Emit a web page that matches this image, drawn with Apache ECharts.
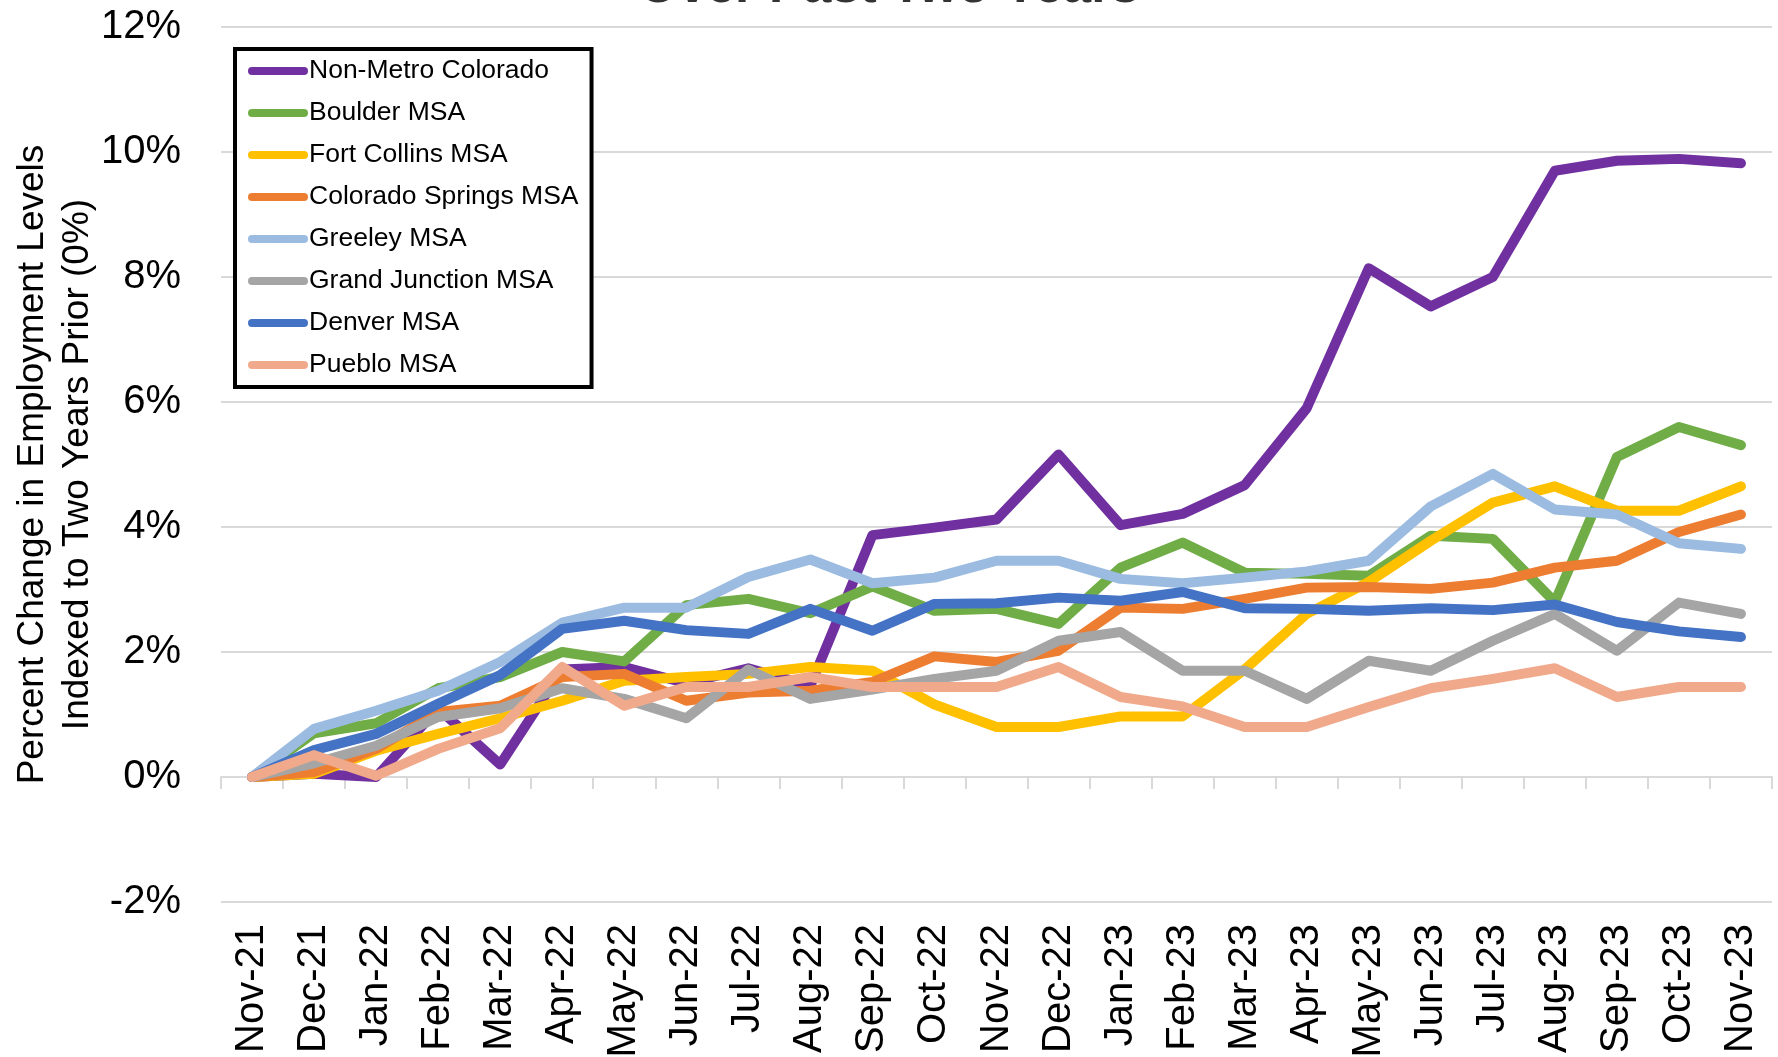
<!DOCTYPE html>
<html>
<head>
<meta charset="utf-8">
<script src="https://cdn.jsdelivr.net/npm/echarts@6/dist/echarts.min.js"></script>
<style>
html, body { margin: 0; padding: 0; background: #fff; }
#chart { width: 1778px; height: 1057px; }
</style>
</head>
<body>
<div id="chart"></div>
<script>
// months on the category axis
var months = ['Nov-21','Dec-21','Jan-22','Feb-22','Mar-22','Apr-22','May-22','Jun-22','Jul-22','Aug-22','Sep-22','Oct-22',
    'Nov-22','Dec-22','Jan-23','Feb-23','Mar-23','Apr-23','May-23','Jun-23','Jul-23','Aug-23','Sep-23','Oct-23','Nov-23'];

// percent change vs. two years prior
var nonMetro      = [0, 0.05, 0.0, 1.1, 0.2, 1.72, 1.76, 1.5, 1.74, 1.46, 3.87, 3.99, 4.12, 5.16, 4.03, 4.21, 4.67, 5.9, 8.14, 7.53, 8.0, 9.7, 9.86, 9.89, 9.82];
var boulder       = [0, 0.7, 0.86, 1.42, 1.6, 2.0, 1.85, 2.75, 2.85, 2.62, 3.05, 2.66, 2.69, 2.45, 3.35, 3.75, 3.27, 3.25, 3.22, 3.86, 3.81, 2.8, 5.12, 5.6, 5.31];
var fortCollins   = [0, 0.05, 0.42, 0.69, 0.94, 1.22, 1.54, 1.6, 1.65, 1.76, 1.7, 1.16, 0.8, 0.8, 0.97, 0.97, 1.72, 2.61, 3.12, 3.78, 4.39, 4.65, 4.26, 4.26, 4.65];
var coloSprings   = [0, 0.08, 0.45, 1.04, 1.14, 1.6, 1.65, 1.22, 1.35, 1.38, 1.52, 1.93, 1.84, 2.02, 2.71, 2.69, 2.85, 3.03, 3.04, 3.01, 3.11, 3.35, 3.46, 3.92, 4.2];
var greeley       = [0, 0.77, 1.06, 1.38, 1.84, 2.47, 2.71, 2.71, 3.2, 3.48, 3.1, 3.19, 3.46, 3.46, 3.17, 3.1, 3.19, 3.29, 3.46, 4.33, 4.85, 4.28, 4.2, 3.74, 3.65];
var grandJunction = [0, 0.22, 0.5, 0.96, 1.1, 1.42, 1.25, 0.94, 1.72, 1.25, 1.4, 1.57, 1.7, 2.18, 2.32, 1.7, 1.7, 1.25, 1.86, 1.7, 2.18, 2.61, 2.02, 2.79, 2.61];
var denver        = [0, 0.43, 0.69, 1.17, 1.63, 2.37, 2.5, 2.35, 2.29, 2.69, 2.34, 2.77, 2.78, 2.87, 2.82, 2.96, 2.7, 2.69, 2.66, 2.7, 2.67, 2.76, 2.48, 2.33, 2.24];
var pueblo        = [0, 0.35, 0.02, 0.45, 0.78, 1.76, 1.14, 1.44, 1.44, 1.6, 1.44, 1.44, 1.44, 1.76, 1.28, 1.13, 0.8, 0.8, 1.12, 1.42, 1.57, 1.74, 1.28, 1.44, 1.44];

var names  = ['Non-Metro Colorado','Boulder MSA','Fort Collins MSA','Colorado Springs MSA','Greeley MSA','Grand Junction MSA','Denver MSA','Pueblo MSA'];
var values = [nonMetro, boulder, fortCollins, coloSprings, greeley, grandJunction, denver, pueblo];
var colors = ['#7030A0','#70AD47','#FFC000','#ED7D31','#9BBBE1','#A5A5A5','#4472C4','#F1A98B'];

var font = 'Liberation Sans, Arial, sans-serif';

var chart = echarts.init(document.getElementById('chart'));

var seriesList = [];
for (var i = 0; i < names.length; i++) {
    seriesList.push({
        name: names[i],
        type: 'line',
        xAxisIndex: 0,
        data: values[i],
        symbol: 'none',
        showSymbol: false,
        color: colors[i],
        lineStyle: { width: 10, color: colors[i], cap: 'round', join: 'round' }
    });
}

var option = {
    backgroundColor: '#fff',
    animation: false,
    title: {
        // only the bottom edge of the title shows in the original
        text: 'Over Past Two Years',
        left: 'center',
        top: -43,
        textStyle: { fontFamily: font, fontSize: 51, fontWeight: 'bold', color: '#333' }
    },
    legend: {
        orient: 'vertical',
        left: 235,
        top: 49,
        padding: [7, 13, 7, 13],
        itemGap: 12,
        itemWidth: 52,
        itemHeight: 8,
        backgroundColor: '#fff',
        borderColor: '#000',
        borderWidth: 4,
        lineStyle: { width: 8, cap: 'round' },
        textStyle: { fontFamily: font, fontSize: 26.5, color: '#000', lineHeight: 30 },
        data: names
    },
    grid: { left: 221, right: 6, top: 27, bottom: 155, outerBoundsMode: 'none', containLabel: false },
    xAxis: [
        {
            // labels sit at the bottom of the plot
            type: 'category',
            data: months,
            boundaryGap: true,
            axisLine: { show: false, onZero: false },
            axisTick: { show: false },
            axisLabel: { rotate: 90, margin: 22, fontFamily: font, fontSize: 40, color: '#000', interval: 0 }
        },
        {
            // axis line with ticks at 0%
            type: 'category',
            data: months,
            boundaryGap: true,
            position: 'bottom',
            axisLine: { show: true, onZero: true, lineStyle: { color: '#d9d9d9', width: 2 } },
            axisTick: { show: true, length: 12, interval: 0, lineStyle: { color: '#d9d9d9', width: 2 } },
            axisLabel: { show: false }
        }
    ],
    yAxis: {
        type: 'value',
        min: -2,
        max: 12,
        interval: 2,
        name: 'Percent Change in Employment Levels\nIndexed to Two Years Prior (0%)',
        nameLocation: 'middle',
        nameRotate: 90,
        nameGap: 121,
        nameMoveOverlap: false,
        nameTextStyle: { fontFamily: font, fontSize: 37, color: '#000', lineHeight: 45 },
        axisLine: { show: false },
        axisTick: { show: false },
        axisLabel: { formatter: '{value}%', margin: 40, fontFamily: font, fontSize: 40, color: '#000' },
        splitLine: { lineStyle: { color: '#d9d9d9', width: 2 } }
    },
    series: seriesList
};

chart.setOption(option);
</script>
</body>
</html>
